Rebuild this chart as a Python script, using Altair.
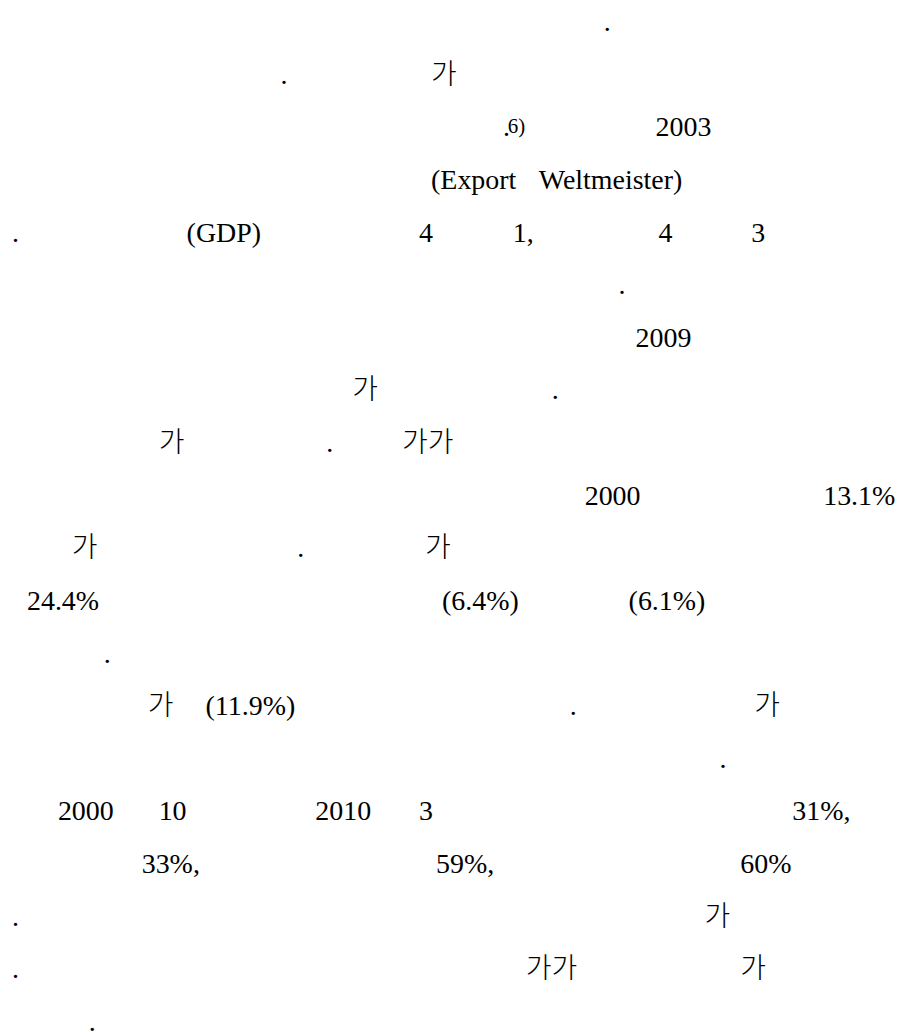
import altair as alt
import pandas as pd

# line number (1 = top) , left x of the fragment, fragment text
latin_line = [1, 2, 3, 3, 4, 4, 5, 5, 5, 5, 5, 5, 6, 7, 8, 9, 10, 10, 11, 12, 12, 12,
              13, 14, 14, 15, 16, 16, 16, 16, 16, 17, 17, 17, 18, 19, 20]
latin_x = [605, 281, 504, 657, 432, 540, 12, 187, 420, 514, 660, 753, 620, 637, 553, 327, 586, 825, 298, 27, 443, 630,
           104, 206, 571, 721, 58, 159, 316, 420, 794, 142, 437, 742, 12, 12, 89]
latin_text = [".", ".", ".", "2003", "(Export", "Weltmeister)", ".", "(GDP)", "4", "1,", "4", "3", ".", "2009", ".", ".",
              "2000", "13.1%", ".", "24.4%", "(6.4%)", "(6.1%)",
              ".", "(11.9%)", ".", ".", "2000", "10", "2010", "3", "31%,", "33%,", "59%,", "60%", ".", ".", "."]

sup_line = [3]
sup_x = [509]
sup_text = ["6)"]

hangul_line = [2, 8, 9, 9, 11, 11, 14, 14, 18, 19, 19]
hangul_x = [432, 353, 159, 403, 72, 426, 148, 756, 706, 527, 742]
hangul_text = ["가", "가", "가", "가가", "가", "가", "가", "가", "가", "가가", "가"]

latin = pd.DataFrame({"line": latin_line, "x": latin_x, "t": latin_text})
sup = pd.DataFrame({"line": sup_line, "x": sup_x, "t": sup_text})
hangul = pd.DataFrame({"line": hangul_line, "x": hangul_x, "t": hangul_text})

xs = alt.Scale(domain=[8, 896], range=[0, 888])
ys = alt.Scale(domain=[1, 20], range=[12, 1014])

def layer(df, font, size, dy=0, weight="normal"):
    return alt.Chart(df).mark_text(
        align="left", baseline="alphabetic", font=font, fontSize=size,
        color="black", dy=dy, fontWeight=weight
    ).encode(
        x=alt.X("x:Q", scale=xs, axis=None),
        y=alt.Y("line:Q", scale=ys, axis=None),
        text="t:N",
    )

chart = alt.layer(
    layer(latin, "Liberation Serif", 28),
    layer(sup, "Liberation Serif", 21, dy=-3),
    layer(hangul, "Noto Sans CJK KR", 28, weight=300),
).properties(width=888, height=1016, padding=0, background="white").configure_view(stroke=None)

chart.save("out.html", embed_options={"renderer": "svg", "actions": False})
